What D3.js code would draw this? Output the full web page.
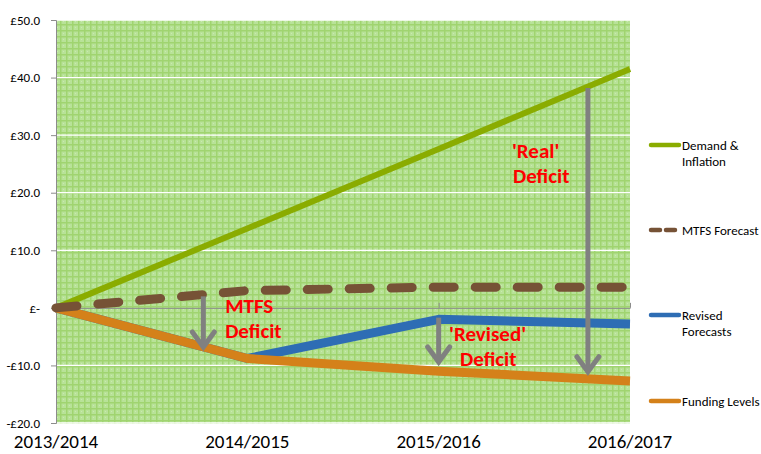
<!DOCTYPE html>
<html>
<head>
<meta charset="utf-8">
<script src="https://cdn.jsdelivr.net/npm/d3@7/dist/d3.min.js"></script>
<style>
  html,body{margin:0;padding:0;background:#fff;}
  svg{display:block;font-family:Carlito,Calibri,Lato,"Open Sans",sans-serif;}
</style>
</head>
<body>
<svg id="chart" width="761" height="454"></svg>
<script>
// ---- data ----
const categories = ["2013/2014", "2014/2015", "2015/2016", "2016/2017"];
const demandInflation = [0, 13.8, 27.6, 41.5];
const mtfsForecast = [0, 3.0, 3.6, 3.6];
const revisedForecasts = [0, -8.8, -2.0, -2.8];
const fundingLevels = [0, -8.8, -11.0, -12.7];
const yTicks = [50, 40, 30, 20, 10, 0, -10, -20];
const seriesNames = ["Demand &\nInflation", "MTFS Forecast", "Revised\nForecasts", "Funding Levels"];
// annotations: [category position, from value, to value]
const arrows = [[0.77, 2.0, -6.8], [2.0, -1.7, -9.4], [2.78, 38.2, -11.1]];
const notes = [
  {pos: 0.884, val: -0.9, lines: ["MTFS", "Deficit"], indent: 0},
  {pos: 2.054, val: -5.8, lines: ["'Revised'", "Deficit"], indent: 11},
  {pos: 2.383, val: 26.0, lines: ["'Real'", "Deficit"], indent: 1}
];

(function () {
const svg = d3.select("#chart");
const pLeft = 56, pRight = 630, pTop = 20, pBottom = 423;
const x = d3.scaleLinear().domain([0, categories.length - 1]).range([pLeft, pRight]);
const y = d3.scaleLinear().domain([-20, 50]).range([pBottom, pTop]);

// background pattern
const defs = svg.append("defs");
const pat = defs.append("pattern").attr("id", "grass").attr("patternUnits", "userSpaceOnUse")
  .attr("width", 6).attr("height", 6);
pat.append("rect").attr("width", 6).attr("height", 6).attr("fill", "#b8e298");
pat.append("rect").attr("x", 0).attr("y", 0).attr("width", 1.5).attr("height", 6).attr("fill", "#a0d470");
pat.append("rect").attr("x", 0).attr("y", 0).attr("width", 6).attr("height", 1.5).attr("fill", "#a0d470");
pat.append("rect").attr("x", 3).attr("y", 3).attr("width", 1).attr("height", 1).attr("fill", "#c8e9b0");

svg.append("rect").attr("x", pLeft).attr("y", pTop).attr("width", pRight - pLeft).attr("height", pBottom - pTop + 1)
  .attr("fill", "url(#grass)");

// gridlines
svg.append("g").selectAll("line").data(yTicks).join("line")
  .attr("x1", pLeft).attr("x2", pRight)
  .attr("y1", d => y(d)).attr("y2", d => y(d))
  .attr("stroke", d => d === 0 ? "none" : "#ffffff").attr("stroke-width", 1.3);

// y axis
const fmt = d => d === 0 ? "£-" : (d < 0 ? "-£" + Math.abs(d).toFixed(1) : "£" + d.toFixed(1));
const yAxis = svg.append("g").attr("transform", `translate(${pLeft},0)`)
  .call(d3.axisLeft(y).tickValues(yTicks).tickFormat(fmt).tickSize(5).tickPadding(11));
yAxis.select(".domain").attr("stroke", "#8c8c8c");
yAxis.selectAll(".tick line").attr("stroke", "#8c8c8c");
yAxis.selectAll("text").attr("font-size", 13).attr("fill", "#000")
  .attr("font-family", "Carlito,Calibri,Lato,sans-serif");

// x axis line at zero with ticks up
const xAxis = svg.append("g").attr("transform", `translate(0,${y(0)})`)
  .call(d3.axisTop(x).tickValues(d3.range(categories.length)).tickFormat("").tickSize(5).tickSizeOuter(0));
xAxis.select(".domain").attr("stroke", "#8c8c8c");
xAxis.selectAll(".tick line").attr("stroke", "#8c8c8c");

// category labels at bottom
svg.append("g").selectAll("text").data(categories).join("text")
  .attr("x", (d, i) => x(i)).attr("y", 448)
  .attr("text-anchor", "middle").attr("font-size", 19).attr("fill", "#000")
  .text(d => d);

// series
const line = d3.line().x((d, i) => x(i)).y(d => y(d));
const series = [
  {vals: revisedForecasts, color: "#2e6db4", width: 9, dash: null},
  {vals: fundingLevels, color: "#d4811a", width: 9, dash: null},
  {vals: demandInflation, color: "#8aac00", width: 6, dash: null},
  {vals: mtfsForecast, color: "#765236", width: 9, dash: "21,21"}
];
series.forEach(s => {
  svg.append("path").datum(s.vals).attr("d", line)
    .attr("fill", "none").attr("stroke", s.color).attr("stroke-width", s.width)
    .attr("stroke-linejoin", "round")
    .attr("stroke-linecap", s.dash ? "round" : "butt")
    .attr("stroke-dasharray", s.dash);
});

// arrows
const ag = svg.append("g").attr("stroke", "#808080").attr("fill", "none").attr("stroke-width", 5);
arrows.forEach(a => {
  const ax = x(a[0]), y1 = y(a[1]), y2 = y(a[2]);
  ag.append("line").attr("x1", ax).attr("x2", ax).attr("y1", y1).attr("y2", y2 - 2);
  ag.append("polyline").attr("points", `${ax - 11},${y2 - 15} ${ax},${y2} ${ax + 11},${y2 - 15}`)
    .attr("stroke-linejoin", "miter").attr("stroke-linecap", "round");
});

// red notes
notes.forEach(n => {
  const t = svg.append("text").attr("x", x(n.pos)).attr("y", y(n.val))
    .attr("fill", "#ff0000").attr("font-size", 21).attr("font-weight", "bold");
  n.lines.forEach((l, i) => {
    t.append("tspan").attr("x", x(n.pos) + (i === 0 ? 0 : n.indent))
      .attr("dy", i === 0 ? 0 : 24.5).text(l);
  });
});

// legend
const legendY = [145, 230, 315, 401];
const legendStyle = [
  {color: "#8aac00", dash: null},
  {color: "#765236", dash: "9,6"},
  {color: "#2e6db4", dash: null},
  {color: "#d4811a", dash: null}
];
seriesNames.forEach((name, i) => {
  const g = svg.append("g").attr("transform", `translate(0,${legendY[i]})`);
  g.append("line").attr("x1", 651).attr("x2", 679).attr("y1", 0).attr("y2", 0)
    .attr("stroke", legendStyle[i].color).attr("stroke-width", 4.5)
    .attr("stroke-linecap", "round").attr("stroke-dasharray", legendStyle[i].dash);
  const t = g.append("text").attr("x", 682).attr("y", 4.5).attr("font-size", 13).attr("fill", "#000");
  name.split("\n").forEach((l, j) => {
    t.append("tspan").attr("x", 682).attr("dy", j === 0 ? 0 : 16.5).text(l);
  });
});
})();
</script>
</body>
</html>
